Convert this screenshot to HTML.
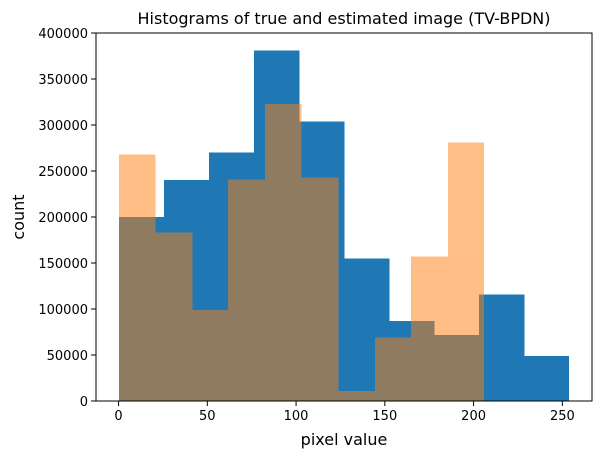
<!DOCTYPE html>
<html><head><meta charset="utf-8"><style>
html,body{margin:0;padding:0;background:#fff;}
svg{display:block;font-family:"DejaVu Sans","Liberation Sans",sans-serif;}
</style></head><body>
<svg id="chart" width="605" height="459" viewBox="0 0 605 459" xmlns="http://www.w3.org/2000/svg">
<rect width="605" height="459" fill="#fff"/>
<text x="344" y="24" text-anchor="middle" font-size="16" fill="#000">Histograms of true and estimated image (TV-BPDN)</text>
<g id="bars" shape-rendering="crispEdges"></g>
<g id="axes"></g>
<text x="344" y="445" text-anchor="middle" font-size="16" fill="#000">pixel value</text>
<text transform="translate(24,217) rotate(-90)" text-anchor="middle" font-size="16" fill="#000">count</text>
</svg>
<script>
const trueEdgesRange = [0, 254];
const trueCounts = [200000, 240000, 270000, 381000, 304000, 155000, 87000, 72000, 116000, 49000];
const estEdgesRange = [0, 206];
const estCounts = [268000, 183000, 99000, 241000, 323000, 243000, 11000, 69000, 157000, 281000];
const xTicks = [0, 50, 100, 150, 200, 250];
const yTicks = [0, 50000, 100000, 150000, 200000, 250000, 300000, 350000, 400000];

const L=96, R=592, T=33, B=401;
const xMin=-12.7, xMax=266.7, yMax=400000;
const xs = v => L + (v - xMin) / (xMax - xMin) * (R - L);
const ys = v => B - v / yMax * (B - T);
const NS = "http://www.w3.org/2000/svg";
const bars = document.getElementById('bars');
const axes = document.getElementById('axes');

function drawHist(range, counts, color, opacity, name) {
  const w = (range[1] - range[0]) / counts.length;
  const g = document.createElementNS(NS, 'g');
  g.setAttribute('opacity', opacity);
  
  
  counts.forEach((c, i) => {
    const x0 = Math.round(xs(range[0] + i * w)), x1 = Math.round(xs(range[0] + (i + 1) * w));
    const r = document.createElementNS(NS, 'rect');
    r.setAttribute('x', x0); r.setAttribute('width', x1 - x0 + (i < counts.length - 1 ? 0.5 : 0));
    r.setAttribute('y', ys(c)); r.setAttribute('height', B - ys(c));
    r.setAttribute('fill', color);
    
    
    g.appendChild(r);
  });
  bars.appendChild(g);
}
drawHist(trueEdgesRange, trueCounts, '#1f77b4', 1, 'true');
drawHist(estEdgesRange, estCounts, '#ff7f0e', 0.5, 'estimated');

const frame = document.createElementNS(NS, 'rect');
frame.setAttribute('x', L); frame.setAttribute('y', T);
frame.setAttribute('width', R - L); frame.setAttribute('height', B - T);
frame.setAttribute('fill', 'none'); frame.setAttribute('stroke', '#000'); frame.setAttribute('stroke-width', '1');


axes.appendChild(frame);

xTicks.forEach(v => {
  const x = xs(v);
  const t = document.createElementNS(NS, 'line');
  t.setAttribute('x1', x); t.setAttribute('x2', x); t.setAttribute('y1', B); t.setAttribute('y2', B + 5);
  t.setAttribute('stroke', '#000');
  
  
  axes.appendChild(t);
  const tx = document.createElementNS(NS, 'text');
  tx.setAttribute('x', x); tx.setAttribute('y', B + 19); tx.setAttribute('text-anchor', 'middle'); tx.setAttribute('font-size', '13');
  tx.textContent = v;
  
  
  axes.appendChild(tx);
});
yTicks.forEach(v => {
  const y = ys(v);
  const t = document.createElementNS(NS, 'line');
  t.setAttribute('x1', L - 5); t.setAttribute('x2', L); t.setAttribute('y1', y); t.setAttribute('y2', y);
  t.setAttribute('stroke', '#000');
  
  
  axes.appendChild(t);
  const tx = document.createElementNS(NS, 'text');
  tx.setAttribute('x', L - 8); tx.setAttribute('y', y + 5); tx.setAttribute('text-anchor', 'end'); tx.setAttribute('font-size', '13');
  tx.textContent = v;
  
  
  axes.appendChild(tx);
});
</script>
</body></html>
